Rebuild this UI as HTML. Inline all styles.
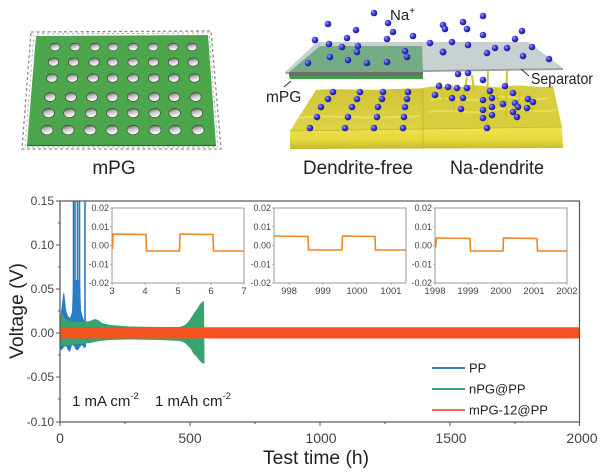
<!DOCTYPE html>
<html><head><meta charset="utf-8"><style>
html,body{margin:0;padding:0;background:#fff;}
svg{display:block;}
text{font-family:"Liberation Sans",sans-serif;}
</style></head><body>
<svg width="600" height="472" viewBox="0 0 600 472" xmlns="http://www.w3.org/2000/svg">
<defs>
<linearGradient id="hole" x1="0" y1="0" x2="0.3" y2="1">
<stop offset="0" stop-color="#4a4a4a"/><stop offset="0.5" stop-color="#c4c4c4"/><stop offset="1" stop-color="#ffffff"/>
</linearGradient>
<radialGradient id="ion" cx="0.35" cy="0.35" r="0.7">
<stop offset="0" stop-color="#9a9cff"/><stop offset="0.5" stop-color="#3535d0"/><stop offset="1" stop-color="#1a1a8a"/>
</radialGradient>
<linearGradient id="slabTop" x1="0" y1="0" x2="0" y2="1">
<stop offset="0" stop-color="#cfc535"/><stop offset="1" stop-color="#ddd347"/>
</linearGradient>
<linearGradient id="slabFront" x1="0" y1="0" x2="0" y2="1">
<stop offset="0" stop-color="#f0e550"/><stop offset="0.6" stop-color="#e3d63c"/><stop offset="1" stop-color="#c4b82a"/>
</linearGradient>
</defs>
<rect width="600" height="472" fill="#fff"/>

<!-- ===== mPG sheet ===== -->
<polygon points="31,32 211,31 221,149 22,149" fill="none" stroke="#8d8d8d" stroke-width="1.3" stroke-dasharray="3,2.5"/>
<polygon points="34,34 209,33 218,147 25,147" fill="none" stroke="#a5a5a5" stroke-width="1" stroke-dasharray="2,3" stroke-dashoffset="2"/>
<polygon points="36,36 208,35 216,145 27,145" fill="#4ca64c"/>
<line x1="27" y1="145.5" x2="216" y2="145.5" stroke="#2e6e2e" stroke-width="1.2"/>
<g fill="url(#hole)" stroke="#3a3a3a" stroke-width="0.6">
<ellipse cx="55" cy="47" rx="5" ry="3.8"/><ellipse cx="75" cy="47" rx="5" ry="3.8"/><ellipse cx="95" cy="47" rx="5" ry="3.8"/><ellipse cx="113" cy="47" rx="5" ry="3.8"/><ellipse cx="133" cy="47" rx="5" ry="3.8"/><ellipse cx="153" cy="47" rx="5" ry="3.8"/><ellipse cx="173" cy="47" rx="5" ry="3.8"/><ellipse cx="192" cy="47" rx="5" ry="3.8"/>
<ellipse cx="53.4" cy="62" rx="5.2" ry="4"/><ellipse cx="73.6" cy="62" rx="5.2" ry="4"/><ellipse cx="94" cy="62" rx="5.2" ry="4"/><ellipse cx="112.8" cy="62" rx="5.2" ry="4"/><ellipse cx="133" cy="62" rx="5.2" ry="4"/><ellipse cx="153.4" cy="62" rx="5.2" ry="4"/><ellipse cx="173.4" cy="62" rx="5.2" ry="4"/><ellipse cx="193.2" cy="62" rx="5.2" ry="4"/>
<ellipse cx="51.8" cy="78" rx="5.4" ry="4.2"/><ellipse cx="72.2" cy="78" rx="5.4" ry="4.2"/><ellipse cx="93" cy="78" rx="5.4" ry="4.2"/><ellipse cx="112.6" cy="78" rx="5.4" ry="4.2"/><ellipse cx="133" cy="78" rx="5.4" ry="4.2"/><ellipse cx="153.8" cy="78" rx="5.4" ry="4.2"/><ellipse cx="173.8" cy="78" rx="5.4" ry="4.2"/><ellipse cx="194.4" cy="78" rx="5.4" ry="4.2"/>
<ellipse cx="50.2" cy="97" rx="5.6" ry="4.4"/><ellipse cx="70.8" cy="97" rx="5.6" ry="4.4"/><ellipse cx="92" cy="97" rx="5.6" ry="4.4"/><ellipse cx="112.4" cy="97" rx="5.6" ry="4.4"/><ellipse cx="133" cy="97" rx="5.6" ry="4.4"/><ellipse cx="154.2" cy="97" rx="5.6" ry="4.4"/><ellipse cx="174.2" cy="97" rx="5.6" ry="4.4"/><ellipse cx="195.6" cy="97" rx="5.6" ry="4.4"/>
<ellipse cx="48.6" cy="113" rx="5.8" ry="4.6"/><ellipse cx="69.4" cy="113" rx="5.8" ry="4.6"/><ellipse cx="91" cy="113" rx="5.8" ry="4.6"/><ellipse cx="112.2" cy="113" rx="5.8" ry="4.6"/><ellipse cx="133" cy="113" rx="5.8" ry="4.6"/><ellipse cx="154.6" cy="113" rx="5.8" ry="4.6"/><ellipse cx="174.6" cy="113" rx="5.8" ry="4.6"/><ellipse cx="196.8" cy="113" rx="5.8" ry="4.6"/>
<ellipse cx="47" cy="130" rx="6" ry="4.8"/><ellipse cx="68" cy="130" rx="6" ry="4.8"/><ellipse cx="90" cy="130" rx="6" ry="4.8"/><ellipse cx="112" cy="130" rx="6" ry="4.8"/><ellipse cx="133" cy="130" rx="6" ry="4.8"/><ellipse cx="155" cy="130" rx="6" ry="4.8"/><ellipse cx="175" cy="130" rx="6" ry="4.8"/><ellipse cx="198" cy="130" rx="6" ry="4.8"/>
</g>
<text x="114" y="174" font-size="19" text-anchor="middle" fill="#222">mPG</text>

<!-- ===== right illustration ===== -->
<path d="M316,90 C340,88 370,91 395,89 C410,88 418,89 423,88 L423,129 L290,131 Z" fill="url(#slabTop)"/>
<path d="M423,88 C440,84 450,90 465,86 C480,83 495,90 510,86 C525,84 540,89 553,86 L562,127 L423,129 Z" fill="#d8cd3e"/>
<path d="M430,100 C450,95 470,104 490,98 C510,94 530,102 548,98 M428,112 C450,108 470,116 495,110 C515,106 535,114 556,110 M300,118 C330,114 360,120 420,116" stroke="#ece25a" stroke-width="2" fill="none" opacity="0.8"/>
<path d="M290,131 L423,129 L562,127 L563,148 L290,149 Z" fill="url(#slabFront)"/>
<path d="M290,131 L423,129 L562,127" stroke="#bfb42a" stroke-width="0.8" fill="none"/>
<line x1="423" y1="88" x2="423" y2="149" stroke="#bfb42a" stroke-width="0.8"/>
<g stroke="#cfc434" stroke-width="2" stroke-linecap="round">
<line x1="488" y1="64" x2="487" y2="130"/><line x1="507" y1="64" x2="506" y2="120"/>
<line x1="440" y1="83" x2="444" y2="100"/><line x1="467" y1="78" x2="463" y2="96"/>
<line x1="452" y1="86" x2="454" y2="110"/><line x1="472" y1="76" x2="474" y2="90"/>
<line x1="520" y1="92" x2="518" y2="112"/><line x1="530" y1="96" x2="532" y2="110"/>
<line x1="495" y1="90" x2="500" y2="105"/>
</g>
<polygon points="317,42 528,42 563,68 285,72" fill="#c8d0d1"/>
<polygon points="285,72 563,68 563,70 286,74" fill="#9aa2a3"/>
<polygon points="320,46 422,46 423,72 289,72" fill="#74ad83"/>
<polygon points="289,72 423,72 423,76 289,76" fill="#6f6f6f"/>
<polygon points="289,76 423,76 423,79 290,79" fill="#3e9f47"/>
<line x1="291" y1="81" x2="284" y2="87" stroke="#333" stroke-width="1"/>
<line x1="521" y1="69" x2="529" y2="76" stroke="#333" stroke-width="1"/>
<g fill="url(#ion)">
<circle cx="374" cy="13" r="3.3"/><circle cx="328" cy="24" r="3.3"/><circle cx="388" cy="23" r="3.3"/><circle cx="356" cy="30" r="3.3"/><circle cx="393" cy="32" r="3.3"/><circle cx="413" cy="36" r="3.3"/><circle cx="315" cy="40" r="3.3"/><circle cx="329" cy="44" r="3.3"/><circle cx="347" cy="38" r="3.3"/><circle cx="387" cy="39" r="3.3"/><circle cx="358" cy="46" r="3.3"/><circle cx="342" cy="47" r="3.3"/><circle cx="357" cy="52" r="3.3"/><circle cx="405" cy="51" r="3.3"/><circle cx="308" cy="63" r="3.3"/><circle cx="330" cy="57" r="3.3"/><circle cx="348" cy="60" r="3.3"/><circle cx="367" cy="63" r="3.3"/><circle cx="387" cy="62" r="3.3"/><circle cx="407" cy="57" r="3.3"/>
<circle cx="443" cy="25" r="3.3"/><circle cx="463" cy="22" r="3.3"/><circle cx="483" cy="16" r="3.3"/><circle cx="445" cy="29" r="3.3"/><circle cx="467" cy="29" r="3.3"/><circle cx="430" cy="43" r="3.3"/><circle cx="452" cy="42" r="3.3"/><circle cx="468" cy="45" r="3.3"/><circle cx="483" cy="35" r="3.3"/><circle cx="515" cy="39" r="3.3"/><circle cx="522" cy="31" r="3.3"/><circle cx="443" cy="52" r="3.5"/><circle cx="487" cy="53" r="3.3"/><circle cx="495" cy="48" r="3.3"/><circle cx="507" cy="48" r="3.3"/><circle cx="523" cy="56" r="3.3"/><circle cx="532" cy="47" r="3.3"/><circle cx="549" cy="59" r="3.3"/>
<circle cx="458" cy="74" r="3.3"/><circle cx="468" cy="73" r="3.3"/><circle cx="439" cy="86" r="3.3"/><circle cx="448" cy="87" r="3.3"/><circle cx="457" cy="88" r="3.3"/><circle cx="467" cy="88" r="3.3"/><circle cx="483" cy="80" r="3.3"/><circle cx="490" cy="91" r="3.3"/><circle cx="505" cy="86" r="3.3"/><circle cx="513" cy="93" r="3.3"/><circle cx="435" cy="95" r="3.3"/><circle cx="452" cy="98" r="3.3"/><circle cx="463" cy="98" r="3.3"/><circle cx="483" cy="100" r="3.3"/><circle cx="492" cy="98" r="3.3"/><circle cx="503" cy="104" r="3.3"/><circle cx="515" cy="103" r="3.3"/><circle cx="518" cy="107" r="3.3"/><circle cx="528" cy="99" r="3.3"/><circle cx="533" cy="102" r="3.3"/><circle cx="461" cy="109" r="3.3"/><circle cx="483" cy="110" r="3.3"/><circle cx="492" cy="107" r="3.3"/><circle cx="513" cy="112" r="3.3"/><circle cx="527" cy="108" r="3.3"/><circle cx="483" cy="118" r="3.3"/><circle cx="492" cy="115" r="3.3"/><circle cx="517" cy="117" r="3.3"/><circle cx="487" cy="128" r="3.3"/>
<circle cx="333" cy="92" r="3.3"/><circle cx="360" cy="92" r="3.3"/><circle cx="383" cy="92" r="3.3"/><circle cx="408" cy="92" r="3.3"/>
<circle cx="328" cy="99" r="3.3"/><circle cx="357" cy="99" r="3.3"/><circle cx="382" cy="99" r="3.3"/><circle cx="407" cy="99" r="3.3"/>
<circle cx="321" cy="107" r="3.3"/><circle cx="352" cy="107" r="3.3"/><circle cx="378" cy="107" r="3.3"/><circle cx="405" cy="107" r="3.3"/>
<circle cx="317" cy="117" r="3.3"/><circle cx="348" cy="117" r="3.3"/><circle cx="377" cy="117" r="3.3"/><circle cx="404" cy="117" r="3.3"/>
<circle cx="310" cy="128" r="3.3"/><circle cx="345" cy="128" r="3.3"/><circle cx="374" cy="128" r="3.3"/><circle cx="403" cy="128" r="3.3"/>
</g>
<text x="390" y="20" font-size="15" fill="#222">Na<tspan font-size="10" dy="-6">+</tspan></text>
<text x="531" y="84" font-size="16" fill="#222" textLength="62" lengthAdjust="spacingAndGlyphs">Separator</text>
<text x="266" y="102" font-size="15.5" fill="#222">mPG</text>
<text x="358" y="174" font-size="19" text-anchor="middle" fill="#222" textLength="110" lengthAdjust="spacingAndGlyphs">Dendrite-free</text>
<text x="497" y="174" font-size="19" text-anchor="middle" fill="#222" textLength="94" lengthAdjust="spacingAndGlyphs">Na-dendrite</text>

<!-- ===== chart ===== -->
<defs><clipPath id="plot"><rect x="60" y="201" width="519" height="221"/></clipPath></defs>
<g clip-path="url(#plot)">
<polygon fill="#2a7cc2" points="60,322 61,312 62,304 63,295 64,292 65,300 66,310 68,316 70,318 72,312 73,280 80,280 81,310 83,318 85,322 86,330 86,347 84,348 82,345 80,347 78,350 76,350 74,346 72,345 70,352 68,350 66,346 64,347 62,350 60,349"/>
<g stroke="#2a7cc2" stroke-width="1.6" fill="none">
<line x1="73.5" y1="200" x2="73.5" y2="290"/><line x1="75" y1="200" x2="75" y2="290"/>
<line x1="77.5" y1="200" x2="77.5" y2="290"/><line x1="79.5" y1="200" x2="79.5" y2="300"/>
<line x1="85" y1="200" x2="85" y2="330"/>
</g>
<polygon fill="#37a46f" points="60,315 62,313 64,318 70,321 80,322 90,321 95,319 98,320 102,323 110,325 130,326.5 160,327 180,327 185,325 188,322 191,318 194,313 197,309 200,304 202,302 204,301 204.5,364 202,363 199,360 196,356 193,353 191,349 188,346 185,343 180,341 160,340 130,339.5 110,340 100,341 90,343 80,344 70,345 62,346 60,344"/>
<rect x="60" y="327.5" width="520" height="10.5" fill="#f4521f"/>
<rect x="60" y="327" width="520" height="1" fill="#f4521f" opacity="0.5"/>
<rect x="60" y="338" width="520" height="1" fill="#f4521f" opacity="0.5"/>
</g>
<rect x="60" y="201" width="519.5" height="221" fill="none" stroke="#555" stroke-width="1.2"/>
<g stroke="#555" stroke-width="1">
<line x1="56" y1="201" x2="60" y2="201"/><line x1="58" y1="223" x2="60" y2="223"/>
<line x1="56" y1="245" x2="60" y2="245"/><line x1="58" y1="267" x2="60" y2="267"/>
<line x1="56" y1="289" x2="60" y2="289"/><line x1="58" y1="311" x2="60" y2="311"/>
<line x1="56" y1="333" x2="60" y2="333"/><line x1="58" y1="355" x2="60" y2="355"/>
<line x1="56" y1="377" x2="60" y2="377"/><line x1="58" y1="399" x2="60" y2="399"/>
<line x1="56" y1="422" x2="60" y2="422"/>
<line x1="60" y1="422" x2="60" y2="426"/><line x1="125" y1="422" x2="125" y2="424"/>
<line x1="190" y1="422" x2="190" y2="426"/><line x1="255" y1="422" x2="255" y2="424"/>
<line x1="320" y1="422" x2="320" y2="426"/><line x1="385" y1="422" x2="385" y2="424"/>
<line x1="450" y1="422" x2="450" y2="426"/><line x1="515" y1="422" x2="515" y2="424"/>
<line x1="579.5" y1="422" x2="579.5" y2="426"/>
</g>
<g font-size="12" fill="#444" text-anchor="end">
<text x="54" y="205">0.15</text><text x="54" y="249">0.10</text><text x="54" y="293">0.05</text>
<text x="54" y="337">0.00</text><text x="54" y="381">-0.05</text><text x="54" y="426">-0.10</text>
</g>
<g font-size="14" fill="#444" text-anchor="middle">
<text x="60" y="443">0</text><text x="190" y="443">500</text><text x="321" y="443">1000</text>
<text x="451" y="443">1500</text><text x="582" y="443">2000</text>
</g>
<text x="316" y="464" font-size="19" text-anchor="middle" fill="#222" textLength="106" lengthAdjust="spacingAndGlyphs">Test time (h)</text>
<text transform="translate(23,311) rotate(-90)" font-size="19" text-anchor="middle" fill="#222" textLength="96" lengthAdjust="spacingAndGlyphs">Voltage (V)</text>

<text x="72" y="406" font-size="15" fill="#222">1 mA cm<tspan font-size="9.5" dy="-7">-2</tspan></text>
<text x="155" y="406" font-size="15" fill="#222">1 mAh cm<tspan font-size="9.5" dy="-7">-2</tspan></text>

<line x1="432" y1="368" x2="465" y2="368" stroke="#3a80c4" stroke-width="2"/>
<line x1="432" y1="389" x2="465" y2="389" stroke="#3aa676" stroke-width="2"/>
<line x1="432" y1="410" x2="465" y2="410" stroke="#e8704a" stroke-width="2"/>
<g font-size="13" fill="#222">
<text x="469" y="372.5">PP</text><text x="469" y="393.5">nPG@PP</text><text x="469" y="414.5">mPG-12@PP</text>
</g>

<g fill="#fff" stroke="#9a9a9a" stroke-width="1">
<rect x="112" y="208" width="132" height="75"/>
<rect x="274" y="208" width="132" height="75"/>
<rect x="435" y="208" width="132" height="75"/>
</g>
<g stroke="#9a9a9a" stroke-width="0.8">
<path d="M110,208h2M110,226.75h2M110,245.5h2M110,264.25h2M110,283h2"/>
<path d="M272,208h2M272,226.75h2M272,245.5h2M272,264.25h2M272,283h2"/>
<path d="M433,208h2M433,226.75h2M433,245.5h2M433,264.25h2M433,283h2"/>
<path d="M112,283v2M145,283v2M178,283v2M211,283v2M244,283v2"/>
<path d="M289,283v2M323,283v2M357,283v2M391,283v2"/>
<path d="M435,283v2M468,283v2M501,283v2M534,283v2M567,283v2"/>
</g>
<g font-size="9" fill="#444" text-anchor="end">
<text x="109" y="211">0.02</text><text x="109" y="230">0.01</text><text x="109" y="248.5">0.00</text><text x="109" y="267.5">-0.01</text><text x="109" y="286">-0.02</text>
<text x="271" y="211">0.02</text><text x="271" y="230">0.01</text><text x="271" y="248.5">0.00</text><text x="271" y="267.5">-0.01</text><text x="271" y="286">-0.02</text>
<text x="432" y="211">0.02</text><text x="432" y="230">0.01</text><text x="432" y="248.5">0.00</text><text x="432" y="267.5">-0.01</text><text x="432" y="286">-0.02</text>
</g>
<g font-size="9.5" fill="#444" text-anchor="middle">
<text x="112" y="294">3</text><text x="145" y="294">4</text><text x="178" y="294">5</text><text x="211" y="294">6</text><text x="244" y="294">7</text>
<text x="289" y="294">998</text><text x="323" y="294">999</text><text x="357" y="294">1000</text><text x="391" y="294">1001</text>
<text x="435" y="294">1998</text><text x="468" y="294">1999</text><text x="501" y="294">2000</text><text x="534" y="294">2001</text><text x="567" y="294">2002</text>
</g>
<g fill="none" stroke="#f08524" stroke-width="1.6">
<path d="M112.5,249 L113,234 L146,234.5 L146.5,251 L179.5,251 L180,234 L213,234.5 L213.5,251 L243.5,251"/>
<path d="M274.5,236 L308,236.5 L308.5,250 L342,250 L342.5,236 L375,236.5 L375.5,250 L405.5,250"/>
<path d="M435.5,248 L436.5,238 L470,238.5 L470.5,251 L503,251 L503.5,238 L537,238.5 L537.5,251 L566.5,251"/>
</g>
</svg>
</body></html>
